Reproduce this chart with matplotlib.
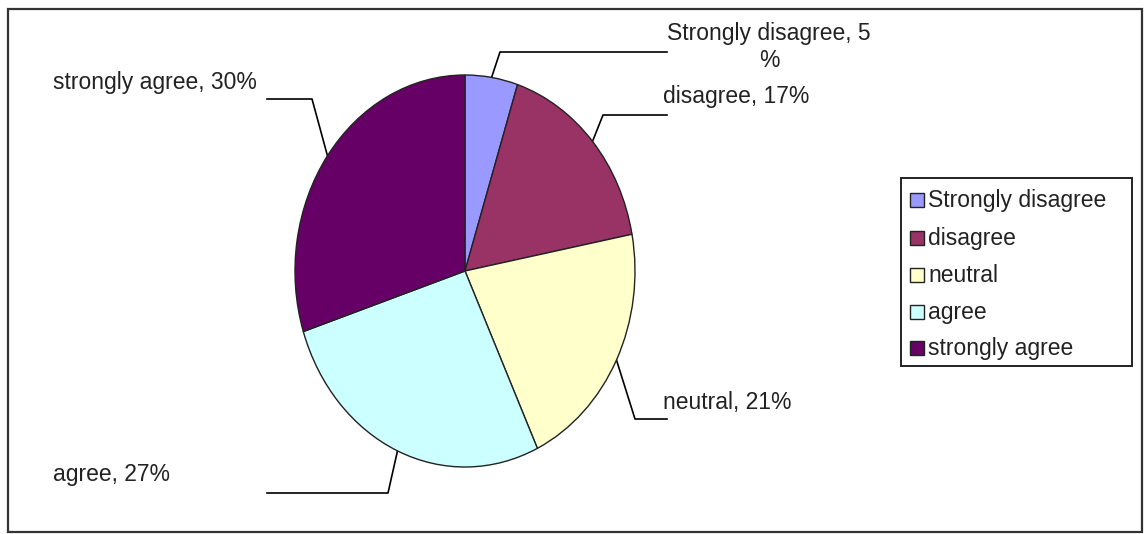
import numpy as np
import matplotlib
matplotlib.use('Agg')
import matplotlib.pyplot as plt
from matplotlib.patches import Rectangle

# survey answers, share in percent
labels = ['Strongly disagree', 'disagree', 'neutral', 'agree', 'strongly agree']
values = [5, 17, 21, 27, 30]
colors = ['#9999FF', '#993366', '#FFFFCC', '#CCFFFF', '#660066']
label_texts = ['Strongly disagree, 5\n%', 'disagree, 17%', 'neutral, 21%',
               'agree, 27%', 'strongly agree, 30%']

plt.rcParams['font.family'] = ['Liberation Sans', 'DejaVu Sans']
FS = 16.5

W, H = 1146, 534
fig = plt.figure(figsize=(W / 100, H / 100), dpi=100)

# background axes in pixel units (y down)
bg = fig.add_axes([0, 0, 1, 1])
bg.set_xlim(0, W)
bg.set_ylim(H, 0)
bg.axis('off')
bg.add_patch(Rectangle((8, 9), 1134, 523, fill=False, edgecolor='#333333', lw=1.6))

# pie drawn as an ellipse (taller than wide)
cx, cy, rx, ry = 465, 271, 170, 196
pax = fig.add_axes([(cx - rx) / W, (H - cy - ry) / H, 2 * rx / W, 2 * ry / H])
wedges, _ = pax.pie(values, colors=colors, startangle=90, counterclock=False,
                    wedgeprops=dict(edgecolor='#222222', linewidth=1.0))
pax.set_aspect('auto')
pax.set_xlim(-1, 1)
pax.set_ylim(-1, 1)
pax.axis('off')

# leader lines: elbow point, end of horizontal, text anchor
elbows = [(500, 52), (603, 115), (635, 419), (388, 493), (312, 99)]
ends = [(667, 52), (667, 115), (667, 419), (267, 493), (267, 99)]
text_pos = [(769, 47), (663, 96), (663, 403), (53, 475), (53, 82)]
text_ha = ['center', 'left', 'left', 'left', 'left']

cum = np.cumsum([0] + values)
for i, v in enumerate(values):
    mid = np.deg2rad(90 - (cum[i] + v / 2) * 3.6)
    x0 = cx + rx * np.cos(mid)
    y0 = cy - ry * np.sin(mid)
    ex, ey = elbows[i]
    hx, hy = ends[i]
    bg.plot([x0, ex, hx], [y0, ey, hy], color='black', lw=1.2)
    tx, ty = text_pos[i]
    bg.text(tx, ty, label_texts[i], ha=text_ha[i], va='center', fontsize=FS,
            color='#222222', linespacing=1.2, multialignment='center')

# legend box
bg.add_patch(Rectangle((901, 178), 231, 188, fill=False, edgecolor='#222222', lw=1.4))
rows = [200, 238, 275, 312, 348]
for i, lab in enumerate(labels):
    y = rows[i]
    bg.add_patch(Rectangle((910, y - 7), 14, 14, facecolor=colors[i],
                           edgecolor='#222222', lw=1.0))
    bg.text(928, y, lab, ha='left', va='center', fontsize=FS, color='#222222')

fig.savefig('out.png', dpi=100)
